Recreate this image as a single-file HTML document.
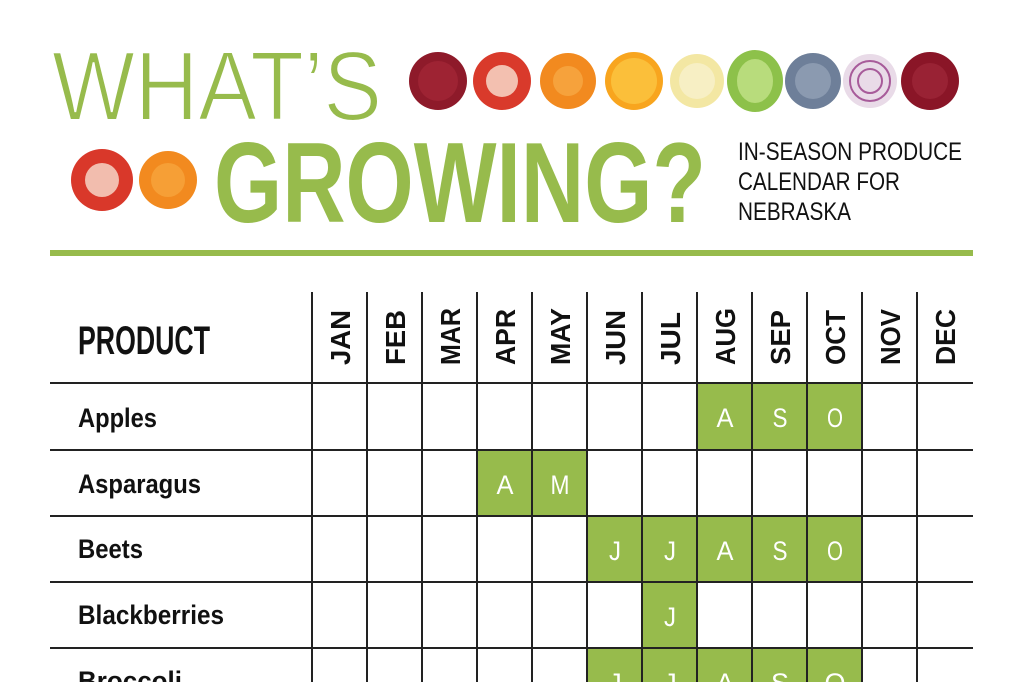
<!DOCTYPE html>
<html><head><meta charset="utf-8"><style>html,body{margin:0;padding:0;background:#fff;overflow:hidden}</style></head>
<body>
<svg width="1023" height="682" viewBox="0 0 1023 682" xmlns="http://www.w3.org/2000/svg">
<rect width="1023" height="682" fill="#fff"/>
<g font-family="Liberation Sans, sans-serif">
<text x="52" y="120" font-size="98" fill="#97bb4c" textLength="330" lengthAdjust="spacingAndGlyphs" stroke="#fff" stroke-width="2">WHAT’S</text>
<text x="214" y="222" font-size="114" font-weight="bold" fill="#97bb4c" font-family="Liberation Sans Narrow, Liberation Sans, sans-serif" textLength="492" lengthAdjust="spacingAndGlyphs">GROWING?</text>
<g font-size="25" fill="#111" font-family="Liberation Sans Narrow, Liberation Sans, sans-serif">
<text x="738" y="160" textLength="224" lengthAdjust="spacingAndGlyphs">IN-SEASON PRODUCE</text>
<text x="738" y="190" textLength="162" lengthAdjust="spacingAndGlyphs">CALENDAR FOR</text>
<text x="738" y="220" textLength="113" lengthAdjust="spacingAndGlyphs">NEBRASKA</text>
</g>
</g>
<circle cx="438" cy="81" r="29" fill="#8e1a2a"/><circle cx="438" cy="81" r="20" fill="#a82a3a" opacity=".6"/>
<circle cx="502" cy="81" r="29" fill="#d93a2b"/><circle cx="502" cy="81" r="16" fill="#f3c0b0"/>
<circle cx="568" cy="81" r="28" fill="#f28a1f"/><circle cx="568" cy="81" r="15" fill="#f6a23c"/>
<circle cx="634" cy="81" r="29" fill="#f8a51e"/><circle cx="634" cy="81" r="23" fill="#fbbf3a"/>
<circle cx="697" cy="81" r="27" fill="#f3e7a3"/><circle cx="697" cy="81" r="18" fill="#f7efc4"/>
<ellipse cx="755" cy="81" rx="28" ry="31" fill="#8dc14a"/><ellipse cx="755" cy="81" rx="18" ry="22" fill="#b8dc7c"/>
<circle cx="813" cy="81" r="28" fill="#6e7f99"/><circle cx="813" cy="81" r="18" fill="#8b9ab0"/>
<circle cx="870" cy="81" r="27" fill="#e9dbe8"/><circle cx="870" cy="81" r="20" fill="none" stroke="#a75b9a" stroke-width="2"/><circle cx="870" cy="81" r="12" fill="none" stroke="#a75b9a" stroke-width="2"/>
<circle cx="930" cy="81" r="29" fill="#8a1527"/><circle cx="930" cy="81" r="18" fill="#a32b3e" opacity=".6"/>
<circle cx="102" cy="180" r="31" fill="#d9382a"/><circle cx="102" cy="180" r="17" fill="#f2bdae"/>
<circle cx="168" cy="180" r="29" fill="#f28a1f"/><circle cx="168" cy="180" r="17" fill="#f69f36"/>
<rect x="50" y="250" width="923" height="6" fill="#97bb4c"/>
<text x="78" y="354" font-size="40" font-weight="bold" fill="#111" font-family="Liberation Sans Narrow, Liberation Sans, sans-serif" textLength="132" lengthAdjust="spacingAndGlyphs">PRODUCT</text>
<g font-size="28" font-weight="bold" fill="#111" font-family="Liberation Sans Narrow, Liberation Sans, sans-serif">
<text transform="translate(350,365) rotate(-90)" textLength="55" lengthAdjust="spacingAndGlyphs">JAN</text>
<text transform="translate(405,365) rotate(-90)" textLength="55" lengthAdjust="spacingAndGlyphs">FEB</text>
<text transform="translate(460,365) rotate(-90)" textLength="57" lengthAdjust="spacingAndGlyphs">MAR</text>
<text transform="translate(515,365) rotate(-90)" textLength="56" lengthAdjust="spacingAndGlyphs">APR</text>
<text transform="translate(570,365) rotate(-90)" textLength="57" lengthAdjust="spacingAndGlyphs">MAY</text>
<text transform="translate(625,365) rotate(-90)" textLength="55" lengthAdjust="spacingAndGlyphs">JUN</text>
<text transform="translate(680,365) rotate(-90)" textLength="53" lengthAdjust="spacingAndGlyphs">JUL</text>
<text transform="translate(735,365) rotate(-90)" textLength="57" lengthAdjust="spacingAndGlyphs">AUG</text>
<text transform="translate(790,365) rotate(-90)" textLength="55" lengthAdjust="spacingAndGlyphs">SEP</text>
<text transform="translate(845,365) rotate(-90)" textLength="55" lengthAdjust="spacingAndGlyphs">OCT</text>
<text transform="translate(900,365) rotate(-90)" textLength="56" lengthAdjust="spacingAndGlyphs">NOV</text>
<text transform="translate(955,365) rotate(-90)" textLength="56" lengthAdjust="spacingAndGlyphs">DEC</text>
</g>
<g fill="#97bb4c">
<rect x="697" y="383" width="165" height="67"/>
<rect x="477" y="450" width="110" height="66"/>
<rect x="587" y="516" width="275" height="66"/>
<rect x="642" y="582" width="55" height="66"/>
<rect x="587" y="648" width="275" height="40"/>
</g>
<g font-size="27" fill="#fff" text-anchor="middle" font-family="Liberation Sans Narrow, Liberation Sans, sans-serif">
<text x="725" y="427" textLength="17" lengthAdjust="spacingAndGlyphs">A</text><text x="780" y="427" textLength="15" lengthAdjust="spacingAndGlyphs">S</text><text x="835" y="427" textLength="16" lengthAdjust="spacingAndGlyphs">O</text>
<text x="505" y="494" textLength="17" lengthAdjust="spacingAndGlyphs">A</text><text x="560" y="494" textLength="19" lengthAdjust="spacingAndGlyphs">M</text>
<text x="615" y="560" textLength="12" lengthAdjust="spacingAndGlyphs">J</text><text x="670" y="560" textLength="12" lengthAdjust="spacingAndGlyphs">J</text><text x="725" y="560" textLength="17" lengthAdjust="spacingAndGlyphs">A</text><text x="780" y="560" textLength="15" lengthAdjust="spacingAndGlyphs">S</text><text x="835" y="560" textLength="16" lengthAdjust="spacingAndGlyphs">O</text>
<text x="670" y="626" textLength="12" lengthAdjust="spacingAndGlyphs">J</text>
<text x="615" y="692">J</text><text x="670" y="692">J</text><text x="725" y="692">A</text><text x="780" y="692">S</text><text x="835" y="692">O</text>
</g>
<g stroke="#222" stroke-width="2">
<line x1="50" y1="383" x2="973" y2="383"/>
<line x1="50" y1="450" x2="973" y2="450"/>
<line x1="50" y1="516" x2="973" y2="516"/>
<line x1="50" y1="582" x2="973" y2="582"/>
<line x1="50" y1="648" x2="973" y2="648"/>
<line x1="312" y1="292" x2="312" y2="682"/>
<line x1="367" y1="292" x2="367" y2="682"/>
<line x1="422" y1="292" x2="422" y2="682"/>
<line x1="477" y1="292" x2="477" y2="682"/>
<line x1="532" y1="292" x2="532" y2="682"/>
<line x1="587" y1="292" x2="587" y2="682"/>
<line x1="642" y1="292" x2="642" y2="682"/>
<line x1="697" y1="292" x2="697" y2="682"/>
<line x1="752" y1="292" x2="752" y2="682"/>
<line x1="807" y1="292" x2="807" y2="682"/>
<line x1="862" y1="292" x2="862" y2="682"/>
<line x1="917" y1="292" x2="917" y2="682"/>
</g>
<g font-size="27" font-weight="bold" fill="#111" font-family="Liberation Sans Narrow, Liberation Sans, sans-serif">
<text x="78" y="427" textLength="79" lengthAdjust="spacingAndGlyphs">Apples</text>
<text x="78" y="493" textLength="123" lengthAdjust="spacingAndGlyphs">Asparagus</text>
<text x="78" y="558" textLength="65" lengthAdjust="spacingAndGlyphs">Beets</text>
<text x="78" y="624" textLength="146" lengthAdjust="spacingAndGlyphs">Blackberries</text>
<text x="78" y="690" textLength="104" lengthAdjust="spacingAndGlyphs">Broccoli</text>
</g>
</svg>
</body></html>
